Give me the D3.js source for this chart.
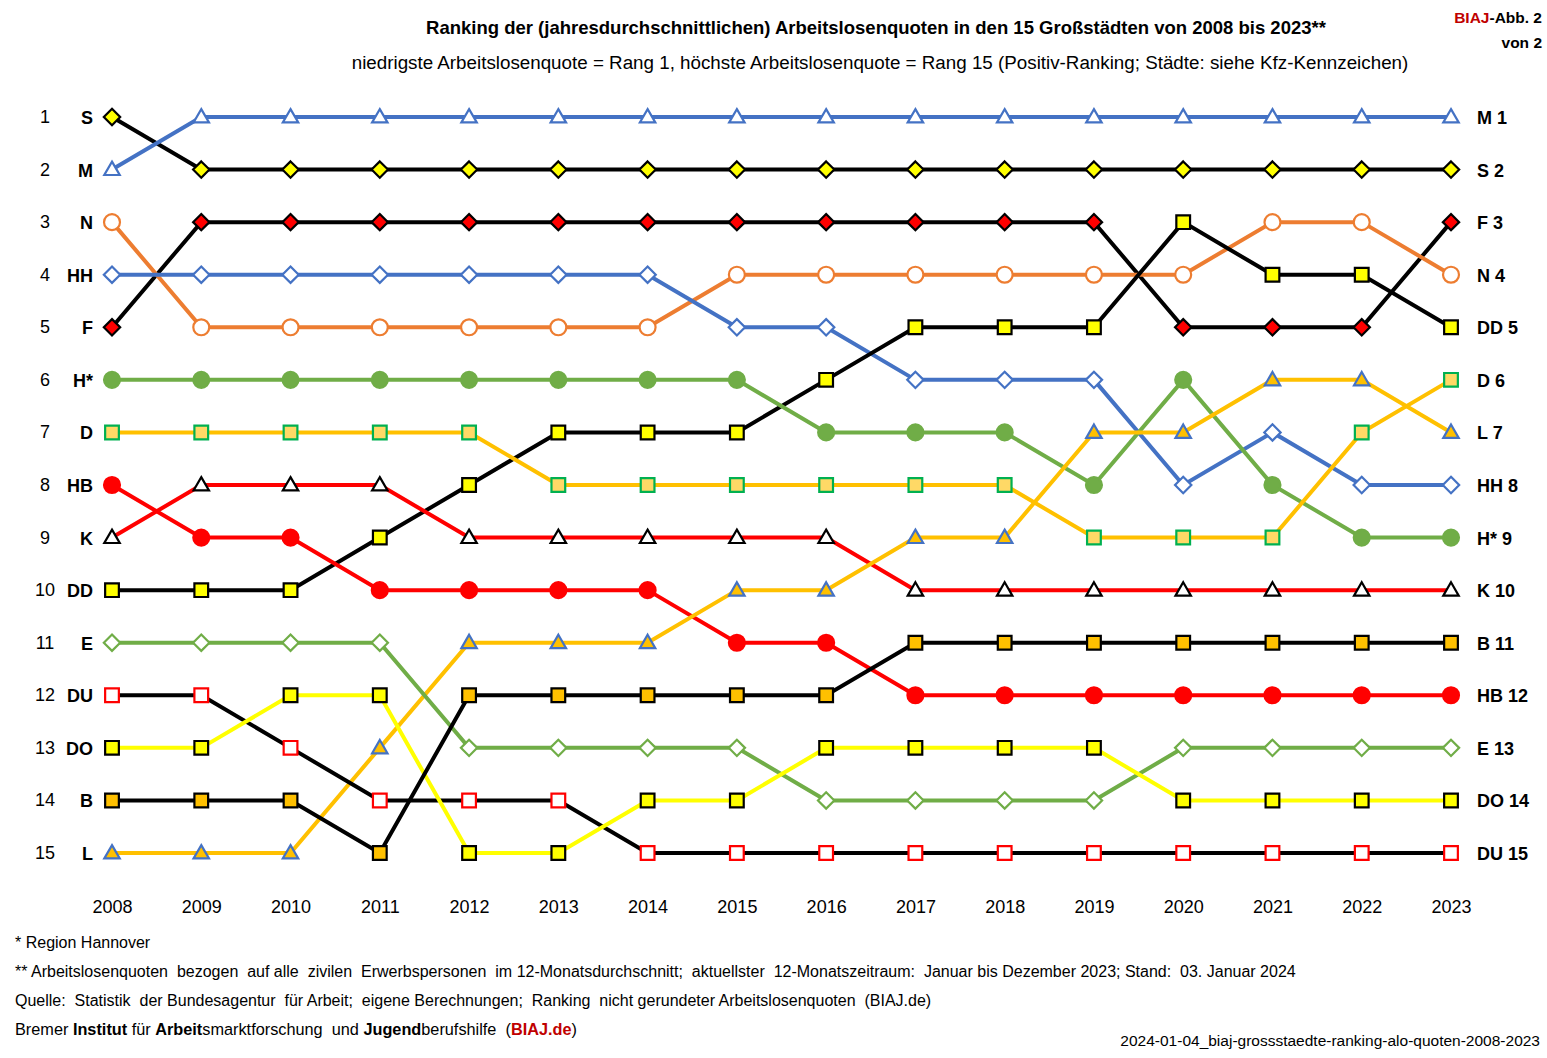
<!DOCTYPE html>
<html><head><meta charset="utf-8">
<script src="https://cdn.jsdelivr.net/npm/d3@7"></script>
<style>body{margin:0;background:#fff;font-family:Arial,"Liberation Sans",sans-serif}</style>
</head><body><svg id="chart" width="1547" height="1058"></svg>
<script>
const years = d3.range(2008, 2024);
const cities = ["S","M","F","N","HH","DD","H*","D","HB","K","L","E","DU","DO","B"];
const rankS  = [1,2,2,2,2,2,2,2,2,2,2,2,2,2,2,2];
const rankM  = [2,1,1,1,1,1,1,1,1,1,1,1,1,1,1,1];
const rankF  = [5,3,3,3,3,3,3,3,3,3,3,3,5,5,5,3];
const rankN  = [3,5,5,5,5,5,5,4,4,4,4,4,4,3,3,4];
const rankHH = [4,4,4,4,4,4,4,5,5,6,6,6,8,7,8,8];
const rankDD = [10,10,10,9,8,7,7,7,6,5,5,5,3,4,4,5];
const rankH  = [6,6,6,6,6,6,6,6,7,7,7,8,6,8,9,9];
const rankD  = [7,7,7,7,7,8,8,8,8,8,8,9,9,9,7,6];
const rankHB = [8,9,9,10,10,10,10,11,11,12,12,12,12,12,12,12];
const rankK  = [9,8,8,8,9,9,9,9,9,10,10,10,10,10,10,10];
const rankL  = [15,15,15,13,11,11,11,10,10,9,9,7,7,6,6,7];
const rankE  = [11,11,11,11,13,13,13,13,14,14,14,14,13,13,13,13];
const rankDU = [12,12,13,14,14,14,15,15,15,15,15,15,15,15,15,15];
const rankDO = [13,13,12,12,15,15,14,14,13,13,13,13,14,14,14,14];
const rankB  = [14,14,14,15,12,12,12,12,12,11,11,11,11,11,11,11];
const ranks = [rankS,rankM,rankF,rankN,rankHH,rankDD,rankH,rankD,rankHB,rankK,rankL,rankE,rankDU,rankDO,rankB];
// style per city: line colour, marker shape, fill, stroke
const styles = [
  ["#000","diamond","#ffff00","#000"],
  ["#4472c4","triangle","#fff","#4472c4"],
  ["#000","diamond","#ff0000","#000"],
  ["#ed7d31","circle","#fff","#ed7d31"],
  ["#4472c4","diamond","#fff","#4472c4"],
  ["#000","square","#ffff00","#000"],
  ["#70ad47","circle","#70ad47","#70ad47"],
  ["#ffc000","square","#ffd966","#00b050"],
  ["#ff0000","circle","#ff0000","#ff0000"],
  ["#ff0000","triangle","#fff","#000"],
  ["#ffc000","triangle","#ffc000","#4472c4"],
  ["#70ad47","diamond","#fff","#70ad47"],
  ["#000","square","#fff","#ff0000"],
  ["#ffff00","square","#ffff00","#000"],
  ["#000","square","#ffc000","#000"]
];

const svg = d3.select("#chart");
const x = d3.scaleLinear().domain([2008, 2023]).range([112, 1451]);
const y = d3.scaleLinear().domain([1, 15]).range([117, 853]);

// titles
svg.append("text").attr("x", 876).attr("y", 34).attr("text-anchor", "middle")
  .attr("font-size", 18.5).attr("font-weight", "bold")
  .text("Ranking der (jahresdurchschnittlichen) Arbeitslosenquoten in den 15 Großstädten von 2008 bis 2023**");
svg.append("text").attr("x", 880).attr("y", 69).attr("text-anchor", "middle").attr("font-size", 18.8)
  .text("niedrigste Arbeitslosenquote = Rang 1, höchste Arbeitslosenquote = Rang 15 (Positiv-Ranking; Städte: siehe Kfz-Kennzeichen)");
const abb = svg.append("text").attr("x", 1542).attr("y", 23).attr("text-anchor", "end")
  .attr("font-size", 15.5).attr("font-weight", "bold");
abb.append("tspan").attr("fill", "#c00000").text("BIAJ");
abb.append("tspan").text("-Abb. 2");
svg.append("text").attr("x", 1542).attr("y", 48).attr("text-anchor", "end")
  .attr("font-size", 15.5).attr("font-weight", "bold").text("von 2");

// rank numbers and left labels
d3.range(1, 16).forEach(r => {
  svg.append("text").attr("x", 45).attr("y", y(r) + 6).attr("text-anchor", "middle")
    .attr("font-size", 18).text(r);
});
cities.forEach((c, i) => {
  svg.append("text").attr("x", 93).attr("y", y(ranks[i][0]) + 7).attr("text-anchor", "end")
    .attr("font-size", 18).attr("font-weight", "bold").text(c);
  svg.append("text").attr("x", 1477).attr("y", y(ranks[i][15]) + 7)
    .attr("font-size", 18).attr("font-weight", "bold").text(c + " " + ranks[i][15]);
});

// x axis labels
svg.append("g").attr("transform", "translate(0,906)")
  .call(d3.axisBottom(x).tickValues(years).tickFormat(d3.format("d")).tickSize(0))
  .call(g => g.select(".domain").remove())
  .call(g => g.selectAll("text").attr("font-size", 18).attr("font-family", "Arial,Liberation Sans,sans-serif").attr("dy", 0).attr("y", 7));

const line = d3.line().x((d, i) => x(years[i])).y(d => y(d));
const symType = {diamond: d3.symbolDiamond2, triangle: d3.symbolTriangle2, circle: d3.symbolCircle, square: d3.symbolSquare2};
const symSize = {diamond: 170, triangle: 170, circle: 200, square: 240};

// draw lines first
ranks.forEach((r, i) => {
  svg.append("path").datum(r).attr("d", line).attr("fill", "none")
    .attr("stroke", styles[i][0]).attr("stroke-width", 4);
});
// markers
ranks.forEach((r, i) => {
  const [lc, shape, fill, stroke] = styles[i];
  const sym = d3.symbol().type(symType[shape]).size(symSize[shape]);
  svg.append("g").selectAll("path").data(r).join("path")
    .attr("transform", (d, j) => `translate(${x(years[j])},${y(d) + (shape === "triangle" ? 1 : 0)})`)
    .attr("d", sym).attr("fill", fill).attr("stroke", stroke).attr("stroke-width", 2.2);
});

// footnotes
const notes = [
  "* Region Hannover",
  "** Arbeitslosenquoten  bezogen  auf alle  zivilen  Erwerbspersonen  im 12-Monatsdurchschnitt;  aktuellster  12-Monatszeitraum:  Januar bis Dezember 2023; Stand:  03. Januar 2024",
  "Quelle:  Statistik  der Bundesagentur  für Arbeit;  eigene Berechnungen;  Ranking  nicht gerundeter Arbeitslosenquoten  (BIAJ.de)"
];
notes.forEach((t, i) => {
  svg.append("text").attr("x", 15).attr("y", 948 + i * 29).attr("font-size", 16)
    .style("white-space", "pre").text(t);
});
const last = svg.append("text").attr("x", 15).attr("y", 1035).attr("font-size", 16.3).style("white-space", "pre");
[["Bremer ", 0], ["Institut", 1], [" für ", 0], ["Arbeit", 1], ["smarktforschung  und ", 0], ["Jugend", 1], ["berufshilfe  (", 0], ["BIAJ.de", 2], [")", 0]]
  .forEach(([t, b]) => last.append("tspan").text(t).attr("font-weight", b ? "bold" : null).attr("fill", b === 2 ? "#c00000" : null));
svg.append("text").attr("x", 1540).attr("y", 1046).attr("text-anchor", "end").attr("font-size", 15.5)
  .text("2024-01-04_biaj-grossstaedte-ranking-alo-quoten-2008-2023");
</script></body></html>
